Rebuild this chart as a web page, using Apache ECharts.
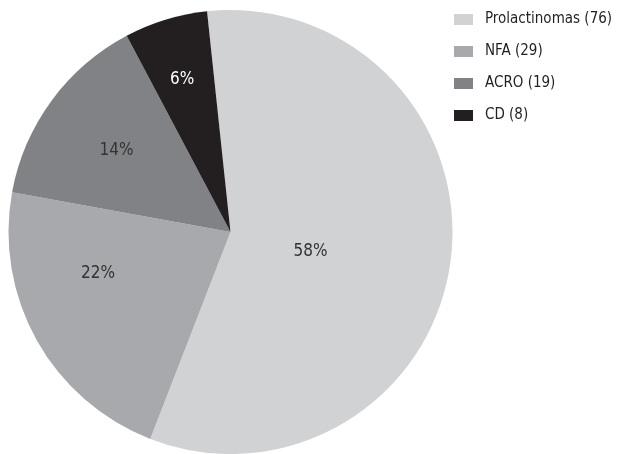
<!DOCTYPE html>
<html><head><meta charset="utf-8">
<script src="https://cdn.jsdelivr.net/npm/echarts@6/dist/echarts.min.js"></script>
<style>html,body{margin:0;padding:0;background:#fff}#c{width:617px;height:454px}</style>
</head><body><div id="c"></div>
<script>
const categories = ['Prolactinomas', 'NFA', 'ACRO', 'CD'];
const counts = [76, 29, 19, 8];
const colors = ['#d1d2d4', '#a7a9ac', '#808285', '#231f20'];
const labelColors = ['#333333', '#333333', '#333333', '#ffffff'];
const labelOffsets = [[-33, 5], [-33, -14], [-22, -14], [-15, -43]];
const FONT = '"Liberation Sans Narrow", "DejaVu Sans Condensed", sans-serif';
const total = counts.reduce((a, b) => a + b, 0);
const data = categories.map((c, i) => ({
  name: c + ' (' + counts[i] + ')',
  value: counts[i],
  itemStyle: { color: colors[i] },
  label: { color: labelColors[i], offset: labelOffsets[i] }
}));
const chart = echarts.init(document.getElementById('c'), null, { renderer: 'canvas' });
chart.setOption({
  animation: false,
  legend: {
    orient: 'vertical', left: 454, top: 12, padding: 0,
    itemWidth: 19, itemHeight: 11, itemGap: 17,
    icon: 'rect',
    textStyle: { fontFamily: FONT, fontSize: 15, color: '#231f20', padding: [0, 0, 0, 7] },
    data: data.map(d => d.name)
  },
  series: [{
    type: 'pie',
    center: [230.5, 232],
    radius: [0, 222],
    startAngle: 96.07,
    clockwise: true,
    data: data,
    itemStyle: { borderWidth: 0 },
    label: {
      position: 'inside',
      fontFamily: FONT, fontSize: 17,
      formatter: p => Math.round(p.value / total * 100) + '%'
    },
    labelLine: { show: false },
    emphasis: { disabled: true }
  }]
});
</script></body></html>
